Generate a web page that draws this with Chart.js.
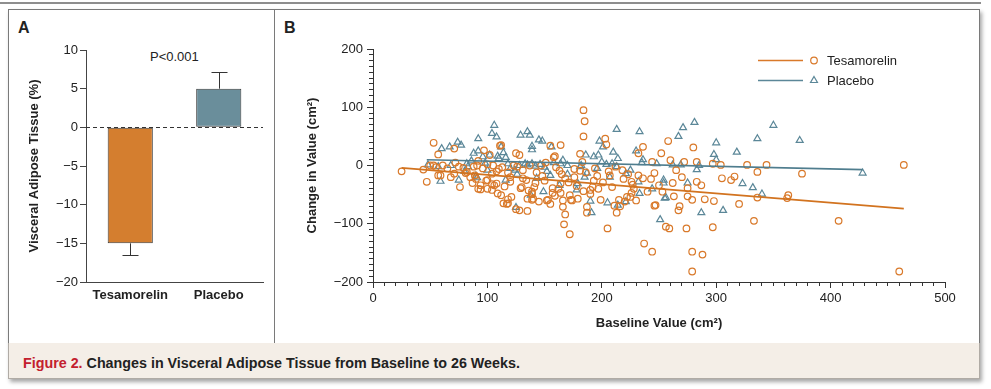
<!DOCTYPE html>
<html>
<head>
<meta charset="utf-8">
<script src="https://cdn.jsdelivr.net/npm/chart.js@4.4.1/dist/chart.umd.min.js"></script>
<style>
  body { margin: 0; width: 991px; height: 389px; background: #fff; position: relative; overflow: hidden;
         font-family: 'Liberation Sans', Arial, sans-serif; color: #222; }
  .abs { position: absolute; }
  #rule { left: 0; top: 2px; width: 981px; height: 2px; background: #8e8e8e; }
  #figure { left: 8px; top: 9px; width: 972px; height: 370px; box-shadow: 2px 3px 4px rgba(0,0,0,0.35); background: #fff; }
  #frame { left: 8px; top: 9px; width: 972px; height: 335px; border: 1px solid #7a7a7a; box-sizing: border-box; }
  #divider { left: 274px; top: 9px; width: 1px; height: 335px; background: #7a7a7a; }
  #caption { left: 8px; top: 343px; width: 972px; height: 36px; background: #f4eee7; box-sizing: border-box;
             border-left: 1px solid #b0aba5; border-right: 1px solid #b0aba5; border-bottom: 1px solid #b0aba5;
             padding: 12px 0 0 14px; font-size: 14.3px; font-weight: bold; line-height: 17px; }
  #caption span { color: #c3202e; }
  .panel { font-size: 16px; font-weight: bold; }
  #pval { left: 150px; top: 49px; font-size: 13px; }
</style>
</head>
<body>
<div id="rule" class="abs"></div>
<div id="figure" class="abs"></div>
<div id="frame" class="abs"></div>
<div id="divider" class="abs"></div>
<div id="caption" class="abs"><span>Figure 2.</span> Changes in Visceral Adipose Tissue from Baseline to 26 Weeks.</div>
<div class="abs panel" style="left:18px; top:19px;">A</div>
<div class="abs panel" style="left:284px; top:19px;">B</div>
<div id="pval" class="abs">P&lt;0.001</div>
<canvas id="barChart" class="abs" width="264" height="332" style="left:9px; top:10px;"></canvas>
<canvas id="scatterChart" class="abs" width="704" height="332" style="left:275px; top:10px;"></canvas>

<script>
// panel A
const barLabels = ['Tesamorelin', 'Placebo'];
const barValues = [-15, 5];
const errorEnds = [-16.5, 7.2];

// panel B: [baseline cm2, change cm2]
const tesamorelinPoints = [
  [25,-10],[44,-7],[47,-28],[50,0],[53,0],[53,39],[55,-3],[57,19],[57,-17],[59,-17],[61,0],[65,-5],[68,-20],
  [71,29],[71,-14],[72,5],[75,-2],[76,-37],[79,-4],[81,-13],[82,-11],[85,-20],[87,-30],[88,-2],[89,-17],[90,-23],
  [91,0],[92,8],[92,-40],[94,-34],[94,-41],[96,-5],[97,26],[99,-26],[100,2],[100,-25],[100,-40],[102,18],[104,-14],
  [104,-32],[104,-42],[105,0],[106,-34],[108,-10],[108,-31],[109,-48],[110,-6],[111,34],[112,35],[112,-51],[113,-3],
  [114,-65],[115,-36],[117,-66],[118,-12],[118,-58],[118,-65],[120,-20],[120,-28],[121,-54],[123,0],[125,21],[125,-75],
  [126,-2],[128,18],[128,-77],[129,-39],[130,-37],[131,-8],[131,-22],[134,-25],[135,-57],[135,-78],[136,-43],[137,0],
  [139,-45],[139,-49],[139,-59],[140,-57],[141,-37],[142,-30],[143,-12],[145,-62],[147,0],[148,-18],[150,-26],[151,5],
  [152,-60],[153,-59],[155,34],[155,-66],[157,-39],[157,-47],[158,14],[159,16],[159,-52],[160,-3],[162,-40],[163,-9],
  [164,35],[164,-31],[164,-47],[165,-15],[166,-60],[166,-71],[167,-101],[168,-22],[168,-84],[171,-29],[172,-51],
  [172,-118],[173,-59],[174,-60],[176,-6],[176,-20],[178,-35],[179,-57],[181,-9],[181,20],[183,6],[184,50],[184,-44],
  [184,95],[185,76],[186,-12],[187,-71],[187,-81],[190,-42],[190,-49],[192,-37],[193,-26],[194,-5],[196,-18],[197,-40],
  [199,-59],[201,-29],[203,46],[204,36],[205,-108],[206,-10],[207,-17],[209,-37],[211,-69],[212,-2],[213,-81],[215,-59],
  [216,-70],[218,-8],[219,-23],[220,-62],[222,-54],[223,-15],[225,-54],[226,-28],[226,-47],[227,-33],[228,-40],[230,-60],
  [232,21],[232,-17],[236,32],[236,-22],[237,-134],[240,-45],[243,-23],[244,6],[244,-148],[246,-13],[246,-69],[247,-68],
  [250,-34],[252,21],[253,-45],[256,-105],[258,42],[259,-108],[260,9],[262,-30],[263,-53],[265,-8],[267,-77],[268,-70],
  [270,-20],[272,6],[274,-108],[275,-39],[275,-53],[279,-59],[279,-148],[279,-182],[280,31],[283,6],[283,-28],[287,-34],
  [288,-153],[290,-58],[297,3],[297,-106],[298,-61],[304,1],[305,-22],[313,-25],[316,-19],[320,-66],[327,1],[333,-95],
  [336,-11],[336,-55],[344,1],[362,-56],[363,-51],[375,-14],[407,-95],[460,-182],[464,1]
];
const placeboPoints = [
  [106,69],[135,58],[137,52],[129,52],[104,55],[108,49],[92,46],[74,40],[77,35],[67,32],[60,29],[213,62],[233,58],
  [267,50],[271,65],[281,74],[350,69],[373,43],[336,46],[300,39],[298,19],[318,23],[198,42],[201,32],[145,44],[148,42],
  [156,32],[139,33],[139,27],[112,32],[92,25],[88,21],[96,15],[102,18],[109,16],[114,22],[116,14],[186,18],[193,15],
  [197,18],[210,23],[214,12],[230,25],[236,10],[269,1],[283,-7],[262,1],[248,3],[323,-31],[332,-38],[340,-49],[306,-77],
  [287,-81],[251,-93],[256,-55],[254,-30],[232,-28],[221,-62],[214,-68],[205,-64],[191,-81],[190,-61],[187,-13],[170,-15],
  [163,-34],[149,-45],[138,-51],[125,-72],[116,-25],[91,-21],[75,-25],[59,-27],[48,1],[57,-2],[83,-2],[82,3],[133,3],
  [139,3],[428,-13],[164,3],[181,-2],[200,6],[204,2],[209,3],[213,-2],[221,-14],[225,-8],[235,5],[166,9],[118,3],[124,-8],
  [150,-3],[155,-17],[178,-42],[179,-31],[128,0],[135,1],[142,-1],[146,2],[120,-5],[98,4],[86,8],[80,-10],[90,-18],
  [170,0],[158,5],[152,-10],[185,-20],[196,-5],[207,-20],[126,-15],[110,12],[100,-8],[68,0],[143,-22],[182,0],[275,-30],
  [254,-25],[244,-40],[300,10],[285,0],[233,-48],[255,-56]
];
const tesamorelinFit = [[25,-4],[464,-74]];
const placeboFit = [[47,10],[428,-7]];

const FONT = "'Liberation Sans', Arial, sans-serif";
const ORANGE = '#d9792a';
const BLUE = '#5b8798';
Chart.defaults.font.family = FONT;
Chart.defaults.font.size = 13;
Chart.defaults.color = '#222';

const minusTick = v => (v < 0 ? '\u2212' + Math.abs(v) : String(v));
const toXY = pts => pts.map(p => ({x: p[0], y: p[1]}));

const errorBars = {
  id: 'errorBars',
  afterDatasetsDraw(chart) {
    const ctx = chart.ctx;
    const y = chart.scales.y;
    const area = chart.chartArea;
    ctx.save();
    ctx.strokeStyle = '#333';
    ctx.lineWidth = 1;
    chart.getDatasetMeta(0).data.forEach((bar, i) => {
      const x = Math.round(bar.x) + 0.5;
      const y0 = y.getPixelForValue(barValues[i]);
      const y1 = Math.round(y.getPixelForValue(errorEnds[i])) + 0.5;
      ctx.beginPath();
      ctx.moveTo(x, y0); ctx.lineTo(x, y1);
      ctx.moveTo(x - 8, y1); ctx.lineTo(x + 8, y1);
      ctx.stroke();
    });
    const z = Math.round(y.getPixelForValue(0)) + 0.5;
    ctx.setLineDash([4, 3]);
    ctx.beginPath();
    ctx.moveTo(area.left, z); ctx.lineTo(area.right, z);
    ctx.stroke();
    ctx.restore();
  }
};

new Chart(document.getElementById('barChart'), {
  type: 'bar',
  data: {
    labels: barLabels,
    datasets: [{
      data: barValues,
      backgroundColor: ['#d47e2f', '#6a8e9b'],
      borderColor: '#3a3a3a',
      borderWidth: 1,
      borderSkipped: false,
      categoryPercentage: 1,
      barPercentage: 0.51
    }]
  },
  options: {
    responsive: false,
    animation: false,
    devicePixelRatio: 1,
    layout: {padding: {top: 40, right: 10, left: 0, bottom: 0}},
    plugins: {legend: {display: false}, tooltip: {enabled: false}},
    scales: {
      x: {
        grid: {display: false, drawTicks: false},
        border: {display: true, color: '#444'},
        ticks: {font: {weight: 'bold', size: 13}, padding: 6, color: '#222'},
        afterFit: s => { s.height = 60; }
      },
      y: {
        min: -20, max: 10,
        ticks: {stepSize: 5, callback: minusTick, padding: 2, color: '#222', font: {size: 13}},
        grid: {drawOnChartArea: false, tickLength: 6, color: '#444'},
        border: {color: '#444'},
        title: {display: true, text: 'Visceral Adipose Tissue (%)', font: {weight: 'bold', size: 13}, padding: {top: 18}},
        afterFit: s => { s.width = 77; }
      }
    }
  },
  plugins: [errorBars]
});

const fitLegend = {
  id: 'fitLegend',
  afterDraw(chart) {
    const ctx = chart.ctx;
    const right = chart.chartArea.right;
    const items = [
      {label: 'Tesamorelin', color: ORANGE, style: 'circle', r: 3.3},
      {label: 'Placebo', color: BLUE, style: 'triangle', r: 4}
    ];
    ctx.save();
    items.forEach((it, i) => {
      const y = 50.5 + i * 20;
      ctx.strokeStyle = it.color;
      ctx.lineWidth = 1.5;
      ctx.beginPath();
      ctx.moveTo(right - 187, y); ctx.lineTo(right - 142, y);
      ctx.stroke();
      ctx.lineWidth = 1.2;
      ctx.fillStyle = 'rgba(0,0,0,0)';
      Chart.helpers.drawPoint(ctx, {pointStyle: it.style, radius: it.r, borderWidth: 1.2, rotation: 0}, right - 131, y);
      ctx.fillStyle = '#222';
      ctx.font = '13px ' + FONT;
      ctx.textBaseline = 'middle';
      ctx.fillText(it.label, right - 118, y + 1);
    });
    ctx.restore();
  }
};

new Chart(document.getElementById('scatterChart'), {
  type: 'scatter',
  data: {
    datasets: [
      {label: 'Tesamorelin fit', data: toXY(tesamorelinFit), showLine: true, borderColor: '#d2731f', borderWidth: 1.6, pointRadius: 0},
      {label: 'Placebo fit', data: toXY(placeboFit), showLine: true, borderColor: '#4f7d8e', borderWidth: 1.6, pointRadius: 0},
      {label: 'Tesamorelin', data: toXY(tesamorelinPoints), pointStyle: 'circle', pointRadius: 3.3,
       borderColor: ORANGE, backgroundColor: 'rgba(0,0,0,0)', borderWidth: 1.2},
      {label: 'Placebo', data: toXY(placeboPoints), pointStyle: 'triangle', pointRadius: 4,
       borderColor: BLUE, backgroundColor: 'rgba(0,0,0,0)', borderWidth: 1.2}
    ]
  },
  options: {
    responsive: false,
    animation: false,
    devicePixelRatio: 1,
    layout: {padding: {top: 39, right: 34, left: 0, bottom: 0}},
    plugins: {legend: {display: false}, tooltip: {enabled: false}},
    scales: {
      x: {
        type: 'linear', position: 'bottom', weight: 1, min: 0, max: 500,
        ticks: {stepSize: 100, padding: 3, color: '#222', font: {size: 13}},
        grid: {drawOnChartArea: false, tickLength: 6, color: '#333'},
        border: {color: '#333'},
        title: {display: true, text: 'Baseline Value (cm\u00b2)', font: {weight: 'bold', size: 13}, padding: {bottom: 11}},
        afterFit: s => { s.height = 60; }
      },
      xMinor: {
        type: 'linear', position: 'bottom', weight: 0, min: 0, max: 500,
        ticks: {display: false, stepSize: 10, maxTicksLimit: 100},
        grid: {drawOnChartArea: false, tickLength: 4, color: '#333'},
        border: {display: false},
        afterFit: s => { s.height = 0; }
      },
      y: {
        type: 'linear', position: 'left', weight: 1, min: -200, max: 200,
        ticks: {stepSize: 100, callback: minusTick, padding: 4, color: '#222', font: {size: 13}},
        grid: {drawOnChartArea: false, tickLength: 6, color: '#333'},
        border: {color: '#333'},
        title: {display: true, text: 'Change in Value (cm\u00b2)', font: {weight: 'bold', size: 13}, padding: {top: 30}},
        afterFit: s => { s.width = 98; }
      },
      yMinor: {
        type: 'linear', position: 'left', weight: 0, min: -200, max: 200,
        ticks: {display: false, stepSize: 10, maxTicksLimit: 100},
        grid: {drawOnChartArea: false, tickLength: 4, color: '#333'},
        border: {display: false},
        afterFit: s => { s.width = 0; }
      }
    }
  },
  plugins: [fitLegend]
});
</script>
</body>
</html>
